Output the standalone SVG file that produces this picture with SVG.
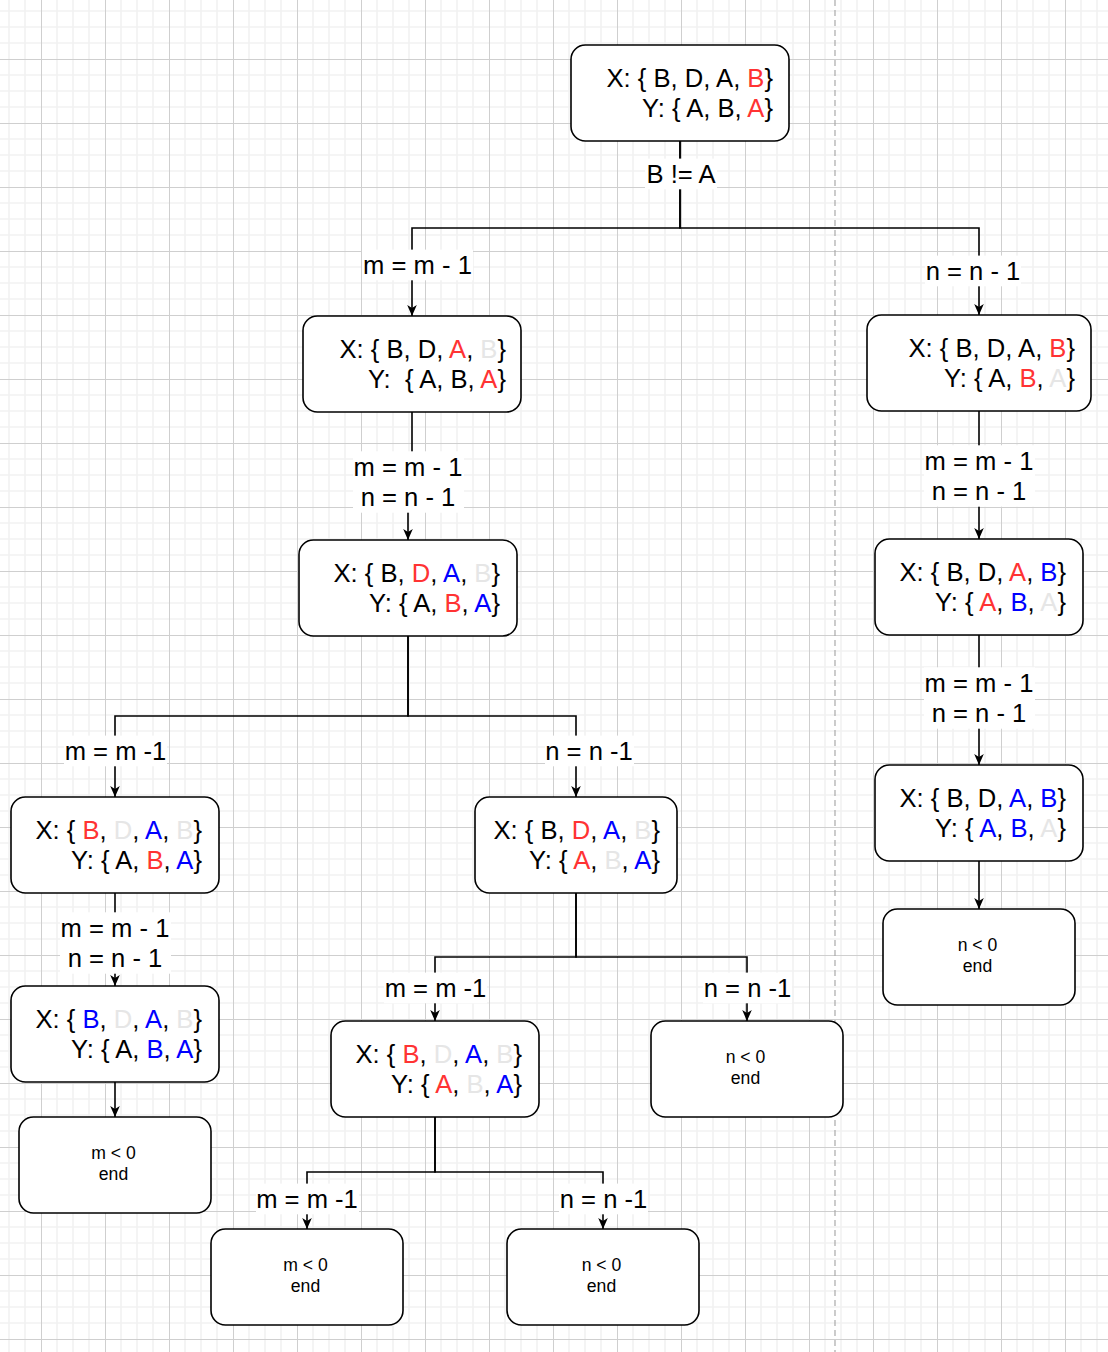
<svg xmlns="http://www.w3.org/2000/svg" width="1108" height="1352" viewBox="0 0 1108 1352">
<style>
.n{fill:#fff;stroke:#000;stroke-width:1.6}
.t{font-family:"Liberation Sans",Arial,Helvetica,sans-serif;font-size:25.6px;fill:#000;white-space:pre}
.x{text-anchor:end}
.m{text-anchor:middle}
.e{font-family:"Liberation Sans",Arial,Helvetica,sans-serif;font-size:17.6px;fill:#000;text-anchor:middle}
.r{fill:#FF3333}.b{fill:#0000FF}.g{fill:#E6E6E6}
.c{fill:none;stroke:#000;stroke-width:1.6;marker-end:url(#arr)}
.lb{fill:#fff}
</style>
<defs>
<pattern id="grid" x="41" y="59" width="64" height="64" patternUnits="userSpaceOnUse">
<path d="M16,0V64M32,0V64M48,0V64M0,16H64M0,32H64M0,48H64" stroke="#f2f2f2" stroke-width="1.6"/>
<path d="M0.5,0V64M0,0.5H64" stroke="#cfcfcf" stroke-width="1"/>
</pattern>
<marker id="arr" markerUnits="userSpaceOnUse" markerWidth="12" markerHeight="10" refX="11" refY="4.8" orient="auto">
<path d="M0,0L11,4.8L0,9.6L3,4.8Z" fill="#000"/>
</marker>
</defs>
<rect width="1108" height="1352" fill="#fff"/>
<rect width="1108" height="1352" fill="url(#grid)"/>
<line x1="835" y1="0" x2="835" y2="1352" stroke="#aaa" stroke-width="1.2" stroke-dasharray="6 4"/>

<g id="connectors">
<path class="c" d="M680,141V228H412V316"/>
<path class="c" d="M680,141V228H979V315"/>
<path class="c" d="M412,412V476H408V540"/>
<path class="c" d="M979,411V539"/>
<path class="c" d="M979,635V765"/>
<path class="c" d="M979,861V909"/>
<path class="c" d="M408,636V716H115V797"/>
<path class="c" d="M408,636V716H576V797"/>
<path class="c" d="M115,893V986"/>
<path class="c" d="M115,1082V1117"/>
<path class="c" d="M576,893V957H435V1021"/>
<path class="c" d="M576,893V957H747V1021"/>
<path class="c" d="M435,1117V1172H307V1229"/>
<path class="c" d="M435,1117V1172H603V1229"/>

<rect class="lb" x="645" y="158.6" width="72" height="30.7"/>
<text class="t m" x="681" y="182.9">B != A</text>
<rect class="lb" x="362" y="249.6" width="111" height="30.7"/>
<text class="t m" x="417.5" y="273.9">m = m - 1</text>
<rect class="lb" x="925" y="255.6" width="96" height="30.7"/>
<text class="t m" x="973" y="279.9">n = n - 1</text>

<rect class="lb" x="353" y="451.3" width="111" height="61.4"/>
<text class="t m" x="408" y="475.5">m = m - 1</text>
<text class="t m" x="408" y="506.2">n = n - 1</text>
<rect class="lb" x="924" y="445.3" width="111" height="61.4"/>
<text class="t m" x="979" y="469.5">m = m - 1</text>
<text class="t m" x="979" y="500.2">n = n - 1</text>
<rect class="lb" x="924" y="667.3" width="111" height="61.4"/>
<text class="t m" x="979" y="691.5">m = m - 1</text>
<text class="t m" x="979" y="722.2">n = n - 1</text>
<rect class="lb" x="60" y="912.3" width="111" height="61.4"/>
<text class="t m" x="115" y="936.5">m = m - 1</text>
<text class="t m" x="115" y="967.2">n = n - 1</text>

<rect class="lb" x="64" y="735.6" width="103" height="30.7"/>
<text class="t m" x="115.5" y="759.9">m = m -1</text>
<rect class="lb" x="545" y="735.6" width="89" height="30.7"/>
<text class="t m" x="589" y="759.9">n = n -1</text>
<rect class="lb" x="384" y="972.6" width="103" height="30.7"/>
<text class="t m" x="435.5" y="996.9">m = m -1</text>
<rect class="lb" x="703" y="972.6" width="89" height="30.7"/>
<text class="t m" x="747.5" y="996.9">n = n -1</text>
<rect class="lb" x="256" y="1183.6" width="103" height="30.7"/>
<text class="t m" x="307" y="1207.9">m = m -1</text>
<rect class="lb" x="559" y="1183.6" width="89" height="30.7"/>
<text class="t m" x="603.5" y="1207.9">n = n -1</text>
</g>

<g id="root">
<rect class="n" x="571" y="45" width="218" height="96" rx="14.4"/>
<text class="t x" x="773" y="86.5">X: { B, D, A, <tspan class="r">B</tspan>}</text>
<text class="t x" x="773" y="117.2">Y: { A, B, <tspan class="r">A</tspan>}</text>
</g>
<g id="left2">
<rect class="n" x="303" y="316" width="218" height="96" rx="14.4"/>
<text class="t x" x="506" y="357.5">X: { B, D, <tspan class="r">A</tspan>, <tspan class="g">B</tspan>}</text>
<text class="t x" x="506" y="388.2">Y:  { A, B, <tspan class="r">A</tspan>}</text>
</g>
<g id="right2">
<rect class="n" x="867" y="315" width="224" height="96" rx="14.4"/>
<text class="t x" x="1075" y="356.5">X: { B, D, A, <tspan class="r">B</tspan>}</text>
<text class="t x" x="1075" y="387.2">Y: { A, <tspan class="r">B</tspan>, <tspan class="g">A</tspan>}</text>
</g>
<g id="mid3">
<rect class="n" x="299" y="540" width="218" height="96" rx="14.4"/>
<text class="t x" x="500" y="581.5">X: { B, <tspan class="r">D</tspan>, <tspan class="b">A</tspan>, <tspan class="g">B</tspan>}</text>
<text class="t x" x="500" y="612.2">Y: { A, <tspan class="r">B</tspan>, <tspan class="b">A</tspan>}</text>
</g>
<g id="right3">
<rect class="n" x="875" y="539" width="208" height="96" rx="14.4"/>
<text class="t x" x="1066" y="580.5">X: { B, D, <tspan class="r">A</tspan>, <tspan class="b">B</tspan>}</text>
<text class="t x" x="1066" y="611.2">Y: { <tspan class="r">A</tspan>, <tspan class="b">B</tspan>, <tspan class="g">A</tspan>}</text>
</g>
<g id="right4">
<rect class="n" x="875" y="765" width="208" height="96" rx="14.4"/>
<text class="t x" x="1066" y="806.5">X: { B, D, <tspan class="b">A</tspan>, <tspan class="b">B</tspan>}</text>
<text class="t x" x="1066" y="837.2">Y: { <tspan class="b">A</tspan>, <tspan class="b">B</tspan>, <tspan class="g">A</tspan>}</text>
</g>
<g id="left4">
<rect class="n" x="11" y="797" width="208" height="96" rx="14.4"/>
<text class="t x" x="202" y="838.5">X: { <tspan class="r">B</tspan>, <tspan class="g">D</tspan>, <tspan class="b">A</tspan>, <tspan class="g">B</tspan>}</text>
<text class="t x" x="202" y="869.2">Y: { A, <tspan class="r">B</tspan>, <tspan class="b">A</tspan>}</text>
</g>
<g id="mid4">
<rect class="n" x="475" y="797" width="202" height="96" rx="14.4"/>
<text class="t x" x="660" y="838.5">X: { B, <tspan class="r">D</tspan>, <tspan class="b">A</tspan>, <tspan class="g">B</tspan>}</text>
<text class="t x" x="660" y="869.2">Y: { <tspan class="r">A</tspan>, <tspan class="g">B</tspan>, <tspan class="b">A</tspan>}</text>
</g>
<g id="left5">
<rect class="n" x="11" y="986" width="208" height="96" rx="14.4"/>
<text class="t x" x="202" y="1027.5">X: { <tspan class="b">B</tspan>, <tspan class="g">D</tspan>, <tspan class="b">A</tspan>, <tspan class="g">B</tspan>}</text>
<text class="t x" x="202" y="1058.2">Y: { A, <tspan class="b">B</tspan>, <tspan class="b">A</tspan>}</text>
</g>
<g id="midleft5">
<rect class="n" x="331" y="1021" width="208" height="96" rx="14.4"/>
<text class="t x" x="522" y="1062.5">X: { <tspan class="r">B</tspan>, <tspan class="g">D</tspan>, <tspan class="b">A</tspan>, <tspan class="g">B</tspan>}</text>
<text class="t x" x="522" y="1093.2">Y: { <tspan class="r">A</tspan>, <tspan class="g">B</tspan>, <tspan class="b">A</tspan>}</text>
</g>
<g id="end-mid">
<rect class="n" x="651" y="1021" width="192" height="96" rx="14.4"/>
<text class="e" x="745.5" y="1063">n &lt; 0</text>
<text class="e" x="745.5" y="1084.2">end</text>
</g>
<g id="end-right">
<rect class="n" x="883" y="909" width="192" height="96" rx="14.4"/>
<text class="e" x="977.5" y="951">n &lt; 0</text>
<text class="e" x="977.5" y="972.2">end</text>
</g>
<g id="end-left">
<rect class="n" x="19" y="1117" width="192" height="96" rx="14.4"/>
<text class="e" x="113.5" y="1159">m &lt; 0</text>
<text class="e" x="113.5" y="1180.2">end</text>
</g>
<g id="end-bottom-m">
<rect class="n" x="211" y="1229" width="192" height="96" rx="14.4"/>
<text class="e" x="305.5" y="1271">m &lt; 0</text>
<text class="e" x="305.5" y="1292.2">end</text>
</g>
<g id="end-bottom-n">
<rect class="n" x="507" y="1229" width="192" height="96" rx="14.4"/>
<text class="e" x="601.5" y="1271">n &lt; 0</text>
<text class="e" x="601.5" y="1292.2">end</text>
</g>
</svg>
